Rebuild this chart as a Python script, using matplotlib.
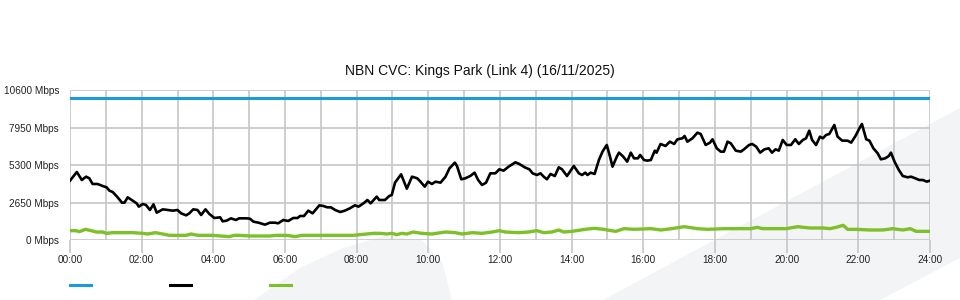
import matplotlib.pyplot as plt
from matplotlib.lines import Line2D
from matplotlib.patches import Polygon


TITLE = "NBN CVC: Kings Park (Link 4) (16/11/2025)"

Y_TICKS = [0, 2650, 5300, 7950, 10600]
Y_LABELS = ["0 Mbps", "2650 Mbps", "5300 Mbps", "7950 Mbps", "10600 Mbps"]
X_TICKS = list(range(0, 25, 2))
X_LABELS = [f"{h:02d}:00" for h in X_TICKS]

CAPACITY = 10000

# black series: time in hours, traffic in Mbps
TRAFFIC_HOURS = [
    0.0, 0.19, 0.33, 0.45, 0.54, 0.63, 0.77, 0.91, 1.02, 1.1, 1.19, 1.33, 1.45,
    1.52, 1.61, 1.75, 1.86, 1.92, 2.03, 2.12, 2.23, 2.33, 2.42, 2.59, 2.73, 2.87,
    3.0, 3.1, 3.24, 3.33, 3.44, 3.56, 3.66, 3.78, 3.89, 4.03, 4.19, 4.26, 4.37,
    4.49, 4.63, 4.72, 4.93, 5.02, 5.12, 5.26, 5.44, 5.58, 5.72, 5.81, 5.95, 6.09,
    6.23, 6.35, 6.42, 6.53, 6.65, 6.77, 6.96, 7.07, 7.18, 7.28, 7.4, 7.54, 7.67,
    7.81, 7.95, 8.05, 8.19, 8.3, 8.39, 8.56, 8.63, 8.79, 8.91, 8.98, 9.07, 9.24,
    9.4, 9.545, 9.69, 9.78, 9.9, 9.99, 10.1, 10.2, 10.34, 10.48, 10.59, 10.74,
    10.8, 10.92, 11.03, 11.17, 11.29, 11.39, 11.5, 11.61, 11.73, 11.87, 11.98,
    12.1, 12.24, 12.43, 12.54, 12.69, 12.82, 12.91, 13.03, 13.13, 13.22, 13.31,
    13.41, 13.53, 13.64, 13.73, 13.87, 14.06, 14.2, 14.29, 14.38, 14.44, 14.53,
    14.64, 14.76, 14.86, 14.98, 15.07, 15.14, 15.26, 15.32, 15.44, 15.55, 15.65,
    15.74, 15.85, 15.91, 16.02, 16.11, 16.21, 16.32, 16.37, 16.48, 16.62, 16.74,
    16.86, 16.95, 17.09, 17.15, 17.23, 17.37, 17.51, 17.6, 17.74, 17.86, 17.93,
    18.05, 18.16, 18.25, 18.35, 18.44, 18.58, 18.72, 18.81, 18.95, 19.04, 19.15,
    19.26, 19.38, 19.5, 19.59, 19.69, 19.78, 19.89, 20.0, 20.12, 20.24, 20.34,
    20.45, 20.54, 20.63, 20.71, 20.82, 20.93, 21.01, 21.1, 21.19, 21.33, 21.42,
    21.55, 21.7, 21.8, 21.92, 22.03, 22.1, 22.22, 22.31, 22.42, 22.54, 22.63,
    22.75, 22.85, 22.91, 23.01, 23.13, 23.24, 23.38, 23.47, 23.59, 23.7, 23.8,
    23.91, 24.0,
]
TRAFFIC_MBPS = [
    4194, 4806, 4241, 4476, 4359, 3958, 3958, 3817, 3722, 3487, 3393, 3016, 2639,
    2639, 3016, 2780, 2592, 2356, 2545, 2474, 2120, 2521, 1932, 2167, 2120, 2073,
    2120, 1885, 1743, 1885, 2167, 2120, 1767, 2167, 1838, 1555, 1602, 1319, 1366,
    1531, 1414, 1531, 1531, 1508, 1296, 1225, 1084, 1225, 1225, 1178, 1414, 1343,
    1555, 1555, 1696, 1696, 2073, 1885, 2450, 2403, 2309, 2309, 2120, 1979, 2073,
    2238, 2450, 2356, 2592, 2827, 2592, 3063, 2827, 2827, 3110, 3181, 4052, 4641,
    3628, 4476, 4359, 4123, 3770, 4123, 3958, 4123, 4052, 4476, 5065, 5466,
    5230, 4288, 4359, 4523, 4759, 4241, 3887, 4052, 4712, 4712, 4995,
    4900, 5183, 5489, 5372, 5136, 4995, 4712, 4594, 4712, 4476, 4288,
    4665, 4523, 5136, 4995, 4523, 5230, 4712, 4594, 4759, 4594, 4759,
    4665, 5654, 6243, 6715, 5890, 5183, 5890, 6173, 5890, 5537, 6173,
    5772, 5772, 6008, 5654, 5607, 5654, 6314, 6173, 6785, 6644, 6950,
    6785, 7115, 7186, 7351, 6950, 7186, 7586, 7492, 6715, 6880, 7115,
    6479, 6243, 6243, 6950, 6833, 6314, 6243, 6408, 6715, 6785, 6597,
    6173, 6408, 6479, 6173, 6408, 6314, 7068, 6715, 6715, 7115, 6785,
    7068, 7186, 7728, 7068, 6715, 7304, 7186, 7421, 7492, 8128, 7304,
    7021, 7021, 6880, 7351, 7893, 8199, 7115, 7021, 6479, 6126, 5701,
    5772, 5937, 6173, 5537, 4948, 4523, 4429, 4476, 4359, 4241, 4241,
    4123, 4194,
]

# green series
LOW_HOURS = [
    0.0, 0.17, 0.26, 0.43, 0.59, 0.73, 0.91, 1.02, 1.19, 1.75, 2.03, 2.17, 2.38,
    2.59, 2.77, 2.96, 3.24, 3.38, 3.56, 3.98, 4.44, 4.58, 4.72, 5.02, 5.3, 5.58,
    5.77, 6.05, 6.28, 6.47, 7.07, 7.91, 8.09, 8.47, 8.65, 8.84, 8.98, 9.12,
    9.26, 9.4, 9.58, 9.82, 10.1, 10.48, 10.75, 10.94, 11.22, 11.5, 11.78, 11.98,
    12.15, 12.52, 12.8, 13.03, 13.22, 13.45, 13.64, 13.78, 14.01, 14.38, 14.63,
    14.9, 14.99, 15.23, 15.46, 15.74, 16.21, 16.49, 16.79, 17.14, 17.51, 17.79,
    18.26, 18.72, 19.0, 19.18, 19.33, 19.71, 19.99, 20.31, 20.64, 21.01, 21.21,
    21.38, 21.58, 21.7, 21.94, 22.31, 22.68, 22.96, 23.24, 23.45, 23.61, 24.0,
]
LOW_MBPS = [
    660, 660, 589, 754, 660, 565, 565, 471, 518, 518, 471, 424, 518,
    424, 330, 330, 330, 424, 330, 330, 236, 330, 330, 283, 283, 283,
    330, 330, 236, 330, 330, 330, 377, 471, 471, 424, 471, 377,
    471, 424, 565, 471, 424, 565, 518, 424, 518, 471, 565, 660,
    565, 518, 565, 660, 518, 565, 707, 565, 612, 754, 825,
    754, 707, 612, 801, 754, 801, 707, 801, 942, 801, 754,
    801, 801, 801, 895, 801, 801, 801, 942, 848, 848, 801,
    895, 1037, 754, 754, 707, 707, 801, 707, 801, 612, 612,
]

W, H = 960, 300


def fx(px):
    return px / W


def fy(py):
    return 1 - py / H


fig = plt.figure(figsize=(9.6, 3.0), dpi=100)
fig.patch.set_facecolor("white")

# faint watermark shapes behind the chart
watermark = "#f3f4f6"
shapes = [
    [(254, 300), (300, 268), (343, 248), (385, 236), (422, 240), (442, 262), (452, 300)],
    [(603, 300), (960, 108), (960, 258), (880, 300)],
]
for pts in shapes:
    fig.add_artist(Polygon([(fx(x), fy(y)) for x, y in pts], closed=True,
                           facecolor=watermark, edgecolor="none", zorder=0))

ax = fig.add_axes([fx(70), fy(240), fx(930) - fx(70), fy(90) - fy(240)])
ax.patch.set_alpha(0)

ax.set_xlim(0, 24)
ax.set_ylim(0, 10600)

grid_color = "#c6c6c6"
ax.set_xticks(X_TICKS)
ax.set_xticklabels(X_LABELS)
ax.set_xticks(range(0, 25), minor=True)
ax.set_yticks(Y_TICKS)
ax.set_yticklabels(Y_LABELS)
ax.grid(True, which="both", color=grid_color, linewidth=1.2, zorder=1)
for s in ax.spines.values():
    s.set_visible(False)

ax.tick_params(axis="x", which="major", length=9, width=1.2, color=grid_color,
               pad=2, labelsize=7.2)
ax.tick_params(axis="x", which="minor", length=0)
ax.tick_params(axis="y", length=0, pad=8, labelsize=7.2)
for lab in ax.get_xticklabels() + ax.get_yticklabels():
    lab.set_fontfamily(["Liberation Sans", "DejaVu Sans"])
    lab.set_color("#222222")

blue = "#1a9be0"
black = "#000000"
green = "#7fbf2a"

ax.axhline(CAPACITY, color=blue, linewidth=2.2, zorder=3)
ax.plot(LOW_HOURS, LOW_MBPS, color=green, linewidth=2.4, zorder=3,
        solid_joinstyle="round")
ax.plot(TRAFFIC_HOURS, TRAFFIC_MBPS, color=black, linewidth=1.9, zorder=4,
        solid_joinstyle="round")

fig.text(0.5, fy(71), TITLE, ha="center", va="center", fontsize=10,
         family=["Liberation Sans", "DejaVu Sans"], color="#111111")

# legend swatches without text
for x0, c in [(70, blue), (170, black), (270, green)]:
    fig.add_artist(Line2D([fx(x0), fx(x0 + 21)], [fy(285), fy(285)],
                          color=c, linewidth=2.2))

fig.savefig("out.png", dpi=100)
